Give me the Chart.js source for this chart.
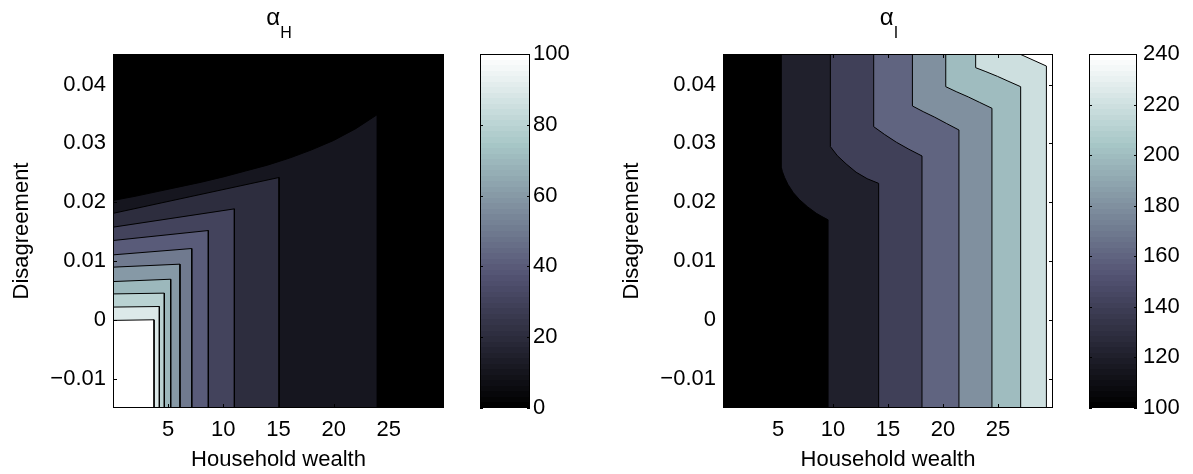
<!DOCTYPE html>
<html>
<head>
<meta charset="utf-8">
<script src="https://cdn.jsdelivr.net/npm/chart.js@4.4.1/dist/chart.umd.min.js"></script>
<style>
  body { margin: 0; background: #fff; width: 1193px; height: 474px; position: relative; overflow: hidden; font-family: "Liberation Sans", Arial, sans-serif; }
  .panel { position: absolute; top: 0; height: 474px; }
  .titulo { position: absolute; top: 5px; width: 120px; text-align: center; font-size: 24px; line-height: 24px; color: #000; }
  .titulo sub { font-size: 16px; vertical-align: -13px; line-height: 0; }
</style>
</head>
<body>
<div class="panel" style="left:0;width:460px"><canvas id="plotH"></canvas></div>
<div class="panel" style="left:470px;width:110px"><canvas id="barH"></canvas></div>
<div class="panel" style="left:610px;width:460px"><canvas id="plotI"></canvas></div>
<div class="panel" style="left:1079px;width:114px"><canvas id="barI"></canvas></div>
<div class="titulo" style="left:219px">α<sub>H</sub></div>
<div class="titulo" style="left:829px">α<sub>I</sub></div>
<script>
// axes
const wealthRange = [0, 30];
const disagRange = [-0.015, 0.0452];
const wealthTicks = [5, 10, 15, 20, 25];
const disagTicks = [-0.01, 0, 0.01, 0.02, 0.03, 0.04];

// alpha_H: contour levels and the upper edge of each level (the edge then drops straight down)
const levelsH = [10, 20, 30, 40, 50, 60, 70, 80, 90, 100];
const edgeWealthH = [
  [0, 2, 4, 6, 8, 10, 12, 14, 16, 18, 20, 22, 23.96],
  [0, 15.05],
  [0, 11.0],
  [0, 8.64],
  [0, 7.14],
  [0, 6.07],
  [0, 5.23],
  [0, 4.65],
  [0, 4.2],
  [0, 3.72]
];
const edgeDisagH = [
  [0.0203, 0.021, 0.0218, 0.0226, 0.0234, 0.0243, 0.0253, 0.0263, 0.0275, 0.0289, 0.0305, 0.0325, 0.0349],
  [0.0181, 0.0242],
  [0.01575, 0.01886],
  [0.01348, 0.01518],
  [0.01104, 0.01212],
  [0.00895, 0.00946],
  [0.0065, 0.0069],
  [0.0044, 0.00453],
  [0.00216, 0.00226],
  [-0.0001, 0.0]
];
const colorRangeH = [0, 100];
const colorTicksH = [0, 20, 40, 60, 80, 100];

// alpha_I: contour levels, each line from bottom to top of the plot
const levelsI = [120, 140, 160, 180, 200, 220, 240];
const lineWealthI = [
  [9.55, 9.55, 9.0, 8.49, 7.7, 6.97, 6.4, 5.91, 5.6, 5.4, 5.32, 5.3, 5.3],
  [14.15, 14.15, 13.1, 12.1, 11.2, 10.4, 9.76, 9.76],
  [18.09, 18.09, 16.9, 15.76, 14.7, 13.7, 13.7],
  [21.45, 21.45, 20.3, 19.25, 18.2, 17.22, 17.22],
  [24.45, 24.45, 23.3, 22.3, 21.2, 20.25, 20.25],
  [27.06, 27.06, 25.9, 24.95, 23.9, 22.97, 22.97],
  [29.4, 29.4, 26.97]
];
const lineDisagI = [
  [-0.015, 0.017, 0.01755, 0.0181, 0.0192, 0.0204, 0.0216, 0.023, 0.0242, 0.0252, 0.0258, 0.026, 0.0452],
  [-0.015, 0.0232, 0.024, 0.0251, 0.0265, 0.0279, 0.02945, 0.0452],
  [-0.015, 0.02786, 0.029, 0.0302, 0.0315, 0.03284, 0.0452],
  [-0.015, 0.03228, 0.0334, 0.03445, 0.0354, 0.03636, 0.0452],
  [-0.015, 0.03597, 0.037, 0.0379, 0.0388, 0.03964, 0.0452],
  [-0.015, 0.03964, 0.0406, 0.0414, 0.0422, 0.04287, 0.0452],
  [-0.015, 0.04315, 0.0452]
];
const colorRangeI = [100, 240];
const colorTicksI = [100, 120, 140, 160, 180, 200, 220, 240];

const fuente = { family: "'Liberation Sans', Arial, sans-serif", size: 22 };

// matlab "bone" colormap
function bone(t) {
  t = Math.min(1, Math.max(0, t));
  const r = Math.min(1, t / 0.375);
  const g = Math.min(1, Math.max(0, (t - 0.375) / 0.375));
  const b = Math.min(1, Math.max(0, (t - 0.75) / 0.25));
  return `rgb(${Math.round(255 * (7 * t + b) / 8)},${Math.round(255 * (7 * t + g) / 8)},${Math.round(255 * (7 * t + r) / 8)})`;
}

// background, box and inward ticks like matlab
const marco = {
  id: 'marco',
  beforeDatasetsDraw(chart, args, opts) {
    if (!opts.fondo) return;
    const a = chart.chartArea;
    chart.ctx.save();
    chart.ctx.fillStyle = opts.fondo;
    chart.ctx.fillRect(a.left, a.top, a.right - a.left, a.bottom - a.top);
    chart.ctx.restore();
  },
  afterDraw(chart, args, opts) {
    const { ctx, chartArea: a, scales } = chart;
    const len = opts.largo || 4;
    ctx.save();
    ctx.strokeStyle = '#000';
    ctx.lineWidth = 1;
    ctx.beginPath();
    (opts.xTicks || []).forEach(v => {
      const px = Math.round(scales.x.getPixelForValue(v)) + 0.5;
      ctx.moveTo(px, a.bottom); ctx.lineTo(px, a.bottom - len);
      ctx.moveTo(px, a.top); ctx.lineTo(px, a.top + len);
    });
    (opts.yTicks || []).forEach(v => {
      const py = Math.round(scales.y.getPixelForValue(v)) + 0.5;
      ctx.moveTo(a.left, py); ctx.lineTo(a.left + len, py);
      ctx.moveTo(a.right, py); ctx.lineTo(a.right - len, py);
    });
    ctx.stroke();
    ctx.strokeRect(a.left + 0.5, a.top + 0.5, a.right - a.left - 1, a.bottom - a.top - 1);
    ctx.restore();
  }
};

function fijarTicks(valores) {
  return scale => { scale.ticks = valores.map(v => ({ value: v })); };
}

function ejes() {
  return {
    x: {
      type: 'linear', min: wealthRange[0], max: wealthRange[1],
      afterBuildTicks: fijarTicks(wealthTicks),
      afterFit: s => { s.height = 66; },
      grid: { display: false, drawTicks: false },
      border: { display: false },
      ticks: { color: '#000', font: fuente, padding: 9, maxRotation: 0 },
      title: { display: true, text: 'Household wealth', color: '#000', font: fuente, padding: { top: 0, bottom: 1 } }
    },
    y: {
      type: 'linear', min: disagRange[0], max: disagRange[1],
      afterBuildTicks: fijarTicks(disagTicks),
      afterFit: s => { s.width = 113; },
      grid: { display: false, drawTicks: false },
      border: { display: false },
      ticks: { color: '#000', font: fuente, padding: 7, callback: v => v < 0 ? '\u2212' + String(-v) : String(v) },
      title: { display: true, text: 'Disagreement', color: '#000', font: fuente, padding: { top: 9, bottom: 0 } }
    }
  };
}

function graficoContorno(id, datasets, fondo, padRight) {
  return new Chart(document.getElementById(id), {
    type: 'scatter',
    data: { datasets },
    options: {
      responsive: true,
      maintainAspectRatio: false,
      animation: false,
      events: [],
      layout: { padding: { top: 54, right: padRight, left: 0, bottom: 0 } },
      scales: ejes(),
      plugins: {
        legend: { display: false },
        tooltip: { enabled: false },
        marco: { fondo, xTicks: wealthTicks, yTicks: disagTicks, largo: 4 }
      }
    },
    plugins: [marco]
  });
}

function estiloNivel(color, orden) {
  return {
    showLine: true, fill: 'shape', backgroundColor: color,
    borderColor: '#000', borderWidth: 1, pointRadius: 0, tension: 0, order: orden
  };
}

// alpha_H: each level is the area under its edge, anchored at the lower-left corner
const datosH = levelsH.map((nivel, i) => {
  const xs = edgeWealthH[i], ys = edgeDisagH[i];
  const puntos = [{ x: xs[0], y: disagRange[0] }]
    .concat(xs.map((x, j) => ({ x, y: ys[j] })))
    .concat([{ x: xs[xs.length - 1], y: disagRange[0] }]);
  const t = (nivel - colorRangeH[0]) / (colorRangeH[1] - colorRangeH[0]);
  return Object.assign({ label: 'alpha_H ' + nivel, data: puntos }, estiloNivel(bone(t), levelsH.length - i));
});

// alpha_I: each level is the area to the right of its line
const datosI = levelsI.map((nivel, i) => {
  const xs = lineWealthI[i], ys = lineDisagI[i];
  const puntos = xs.map((x, j) => ({ x, y: ys[j] }))
    .concat([{ x: wealthRange[1], y: disagRange[1] }, { x: wealthRange[1], y: disagRange[0] }]);
  const t = (nivel - colorRangeI[0]) / (colorRangeI[1] - colorRangeI[0]);
  return Object.assign({ label: 'alpha_I ' + nivel, data: puntos }, estiloNivel(bone(t), levelsI.length - i));
});

graficoContorno('plotH', datosH, bone(0), 16);
graficoContorno('plotI', datosI, bone(0), 17);

// colorbars: one floating bar painted with the 64-step colormap
function barraColor(id, rango, ticks, padLeft, ancho, pad) {
  return new Chart(document.getElementById(id), {
    type: 'bar',
    data: {
      labels: [''],
      datasets: [{
        data: [rango],
        barPercentage: 1,
        categoryPercentage: 1,
        borderWidth: 0,
        backgroundColor: ctx => {
          const a = ctx.chart.chartArea;
          if (!a) return bone(0);
          const g = ctx.chart.ctx.createLinearGradient(0, a.bottom, 0, a.top);
          for (let i = 0; i < 64; i++) {
            const c = bone(i / 63);
            g.addColorStop(i / 64, c);
            g.addColorStop((i + 1) / 64, c);
          }
          return g;
        }
      }]
    },
    options: {
      responsive: true,
      maintainAspectRatio: false,
      animation: false,
      events: [],
      layout: { padding: { top: 54, bottom: 66, left: padLeft, right: 0 } },
      scales: {
        x: { display: false },
        y: {
          position: 'right', min: rango[0], max: rango[1],
          afterBuildTicks: fijarTicks(ticks),
          afterFit: s => { s.width = ancho; },
          grid: { display: false, drawTicks: false },
          border: { display: false },
          ticks: { color: '#000', font: fuente, padding: pad }
        }
      },
      plugins: {
        legend: { display: false },
        tooltip: { enabled: false },
        marco: { yTicks: ticks, largo: 3 }
      }
    },
    plugins: [marco]
  });
}

barraColor('barH', colorRangeH, colorTicksH, 10, 50, 3);
barraColor('barI', colorRangeI, colorTicksI, 10, 56, 6);
</script>
</body>
</html>
